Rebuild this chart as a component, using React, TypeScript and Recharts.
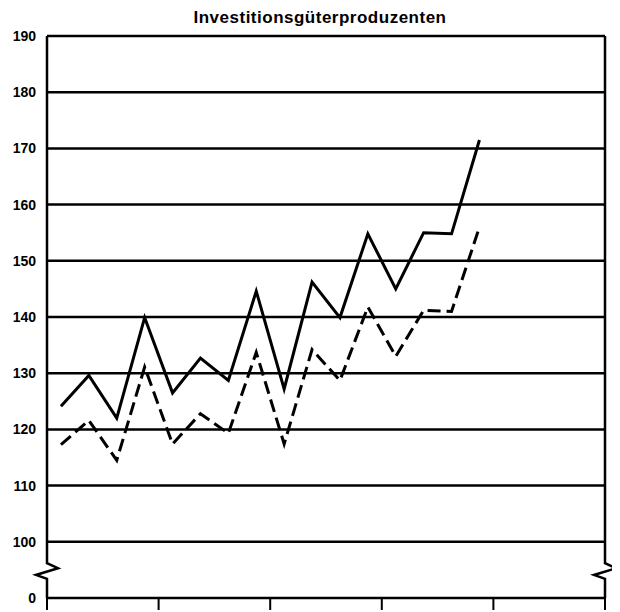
import React from 'react';
import { LineChart, Line, XAxis, YAxis, CartesianGrid, ReferenceLine } from 'recharts';

const title = 'Investitionsgüterproduzenten';
const periods = ['Q1', 'Q2', 'Q3', 'Q4', 'Q5', 'Q6', 'Q7', 'Q8', 'Q9', 'Q10', 'Q11', 'Q12', 'Q13', 'Q14', 'Q15', 'Q16'];
const solidSeries = [124.1, 129.6, 122.0, 139.9, 126.5, 132.7, 128.7, 144.6, 127.2, 146.2, 139.9, 154.8, 145.0, 155.0, 154.8, 171.5];
const dashedSeries = [117.3, 121.6, 114.5, 131.1, 117.4, 122.8, 119.3, 133.7, 117.4, 134.2, 128.7, 141.8, 133.0, 141.2, 141.0, 156.0];
const yTicks = [90, 100, 110, 120, 130, 140, 150, 160, 170, 180, 190];
const yTickLabels = ['0', '100', '110', '120', '130', '140', '150', '160', '170', '180', '190'];
const xTicks = [0, 4, 8, 12, 16, 20];
const yDomain: [number, number] = [90, 190];
const xDomain: [number, number] = [0, 20];
// axis break (zigzag) positions, in axis values
const breakVals = [96.2, 95.3, 94.1, 93.4];

const data = periods.map((p, i) => ({
  period: p,
  x: i + 0.5,
  solid: solidSeries[i],
  dashed: dashedSeries[i],
}));

const FONT = '"Liberation Sans", Arial, Helvetica, sans-serif';

const BrokenAxis = (props: any) => {
  const { x1, y1, x2, y2 } = props;
  if (x1 == null || y1 == null) return null;
  const top = Math.min(y1, y2);
  const bottom = Math.max(y1, y2);
  const k = (bottom - top) / (yDomain[1] - yDomain[0]);
  const yOf = (v: number) => top + (yDomain[1] - v) * k;
  const x = x1;
  const d = `M${x},${top} L${x},${yOf(breakVals[0])} L${x + 11},${yOf(breakVals[1])} L${x - 11},${yOf(breakVals[2])} L${x},${yOf(breakVals[3])} L${x},${bottom}`;
  return <path d={d} fill="none" stroke="#000" strokeWidth={2.5} strokeLinejoin="miter" />;
};

export default function App() {
  return (
    <div style={{ position: 'relative', width: 604, height: 604, fontFamily: FONT }}>
      <div
        style={{
          position: 'absolute',
          left: 112,
          width: 400,
          top: 1,
          textAlign: 'center',
          fontSize: 17,
          lineHeight: '17px',
          fontWeight: 'bold',
          letterSpacing: 0.5,
          color: '#000',
          zIndex: 2,
        }}
      >
        {title}
      </div>
      <LineChart width={604} height={604} data={data} margin={{ top: 28, right: 7, bottom: 1, left: 0 }}>
        <CartesianGrid vertical={false} stroke="#000" strokeWidth={2.5} />
        <XAxis
          type="number"
          dataKey="x"
          domain={xDomain}
          ticks={xTicks}
          tickFormatter={() => ''}
          tickSize={12}
          tickLine={{ stroke: '#000', strokeWidth: 2 }}
          axisLine={false}
          height={13}
          allowDataOverflow
        />
        <YAxis
          type="number"
          domain={yDomain}
          ticks={yTicks}
          tickFormatter={(v: number) => yTickLabels[yTicks.indexOf(v)] ?? String(v)}
          tickSize={0}
          tickMargin={11}
          tickLine={false}
          axisLine={false}
          width={39}
          tick={{ fill: '#000', fontSize: 14, fontWeight: 'bold', fontFamily: FONT }}
          allowDataOverflow
        />
        <ReferenceLine segment={[{ x: 0, y: 190 }, { x: 0, y: 90 }]} shape={(p: any) => <BrokenAxis {...p} />} ifOverflow="visible" />
        <ReferenceLine segment={[{ x: 20, y: 190 }, { x: 20, y: 90 }]} shape={(p: any) => <BrokenAxis {...p} />} ifOverflow="visible" />
        <Line
          type="linear"
          dataKey="dashed"
          stroke="#000"
          strokeWidth={3}
          strokeDasharray="13 6"
          dot={false}
          isAnimationActive={false}
        />
        <Line type="linear" dataKey="solid" stroke="#000" strokeWidth={3} dot={false} isAnimationActive={false} />
      </LineChart>
    </div>
  );
}
